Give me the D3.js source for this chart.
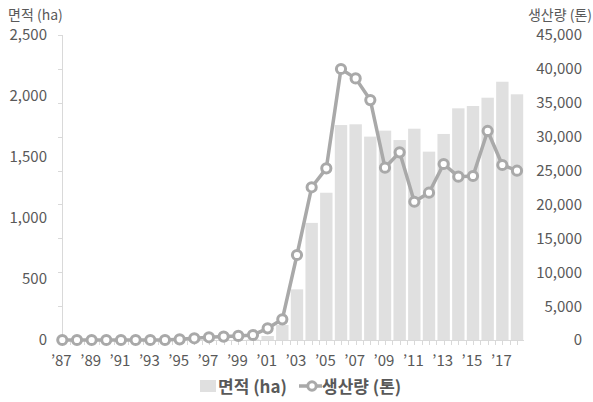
<!DOCTYPE html>
<html><head><meta charset="utf-8">
<script src="https://cdn.jsdelivr.net/npm/d3@7"></script>
<style>body{margin:0;background:#fff}svg{display:block}text{font-family:"Noto Sans CJK KR","Noto Sans",sans-serif}</style>
</head><body><svg id="c" width="593" height="402"></svg>
<script>
const years = d3.range(1987, 2019);
const area = [0,0,0,0,0,0,0,0,0,0,0,0,0,5,33,123,415,960,1207,1762,1768,1667,1716,1639,1732,1544,1689,1899,1918,1986,2117,2014];
const production = [0,0,0,0,0,0,0,0,100,250,400,500,600,740,1720,3050,12540,22530,25330,39980,38600,35400,25420,27690,20400,21730,25970,24100,24200,30840,25820,24980];
const leftTicks = [0,500,1000,1500,2000,2500];
const rightTicks = [0,5000,10000,15000,20000,25000,30000,35000,40000,45000];
const xLabelYears = d3.range(1987, 2019, 2);
const seriesNames = ["면적 (ha)", "생산량 (톤)"];

const svg = d3.select("#c");
const x0 = 62.3, x1 = 517;
const x = d3.scalePoint().domain(years).range([x0, x1]);
const step = x.step();
const yL = d3.scaleLinear().domain([0,2500]).range([340,35]);
const yR = d3.scaleLinear().domain([0,45000]).range([340,35]);
const barColor = "#e0e0e0", lineColor = "#a9a9a9", axisColor = "#d9d9d9", textColor = "#595959";

// bars
svg.append("g").selectAll("rect").data(years).join("rect")
  .attr("x", d => x(d) - 6.2).attr("width", 12.4)
  .attr("y", (d,i) => yL(area[i])).attr("height", (d,i) => yL(0) - yL(area[i]))
  .attr("fill", barColor);

// left axis line with ticks
const gl = svg.append("g");
gl.append("line").attr("x1", 62.5).attr("x2", 62.5).attr("y1", 35).attr("y2", 340).attr("stroke", axisColor);
gl.selectAll("line.t").data(rightTicks).join("line").attr("class","t")
  .attr("x1", 58).attr("x2", 62.5).attr("y1", d => Math.round(yR(d))+0.5).attr("y2", d => Math.round(yR(d))+0.5).attr("stroke", axisColor);
gl.selectAll("text").data(leftTicks).join("text")
  .attr("x", 47).attr("y", d => yL(d)).attr("dy","0.36em").attr("text-anchor","end")
  .attr("font-size", 15).attr("fill", textColor).text(d => d3.format(",")(d));

// right axis labels
svg.append("g").selectAll("text").data(rightTicks).join("text")
  .attr("x", 582).attr("y", d => yR(d)).attr("dy","0.36em").attr("text-anchor","end")
  .attr("font-size", 15).attr("fill", textColor).text(d => d3.format(",")(d));

// x axis
const gx = svg.append("g");
gx.append("line").attr("x1", 62).attr("x2", 524).attr("y1", 340.5).attr("y2", 340.5).attr("stroke", axisColor);
const halfTicks = d3.range(0, years.length*2).map(k => x0 + k*step/2).filter(v => v <= 524);
gx.selectAll("line.t").data(halfTicks).join("line").attr("class","t")
  .attr("x1", d => Math.round(d)+0.5).attr("x2", d => Math.round(d)+0.5).attr("y1", 340).attr("y2", 345).attr("stroke", axisColor);
gx.selectAll("text").data(xLabelYears).join("text")
  .attr("x", d => x(d) - 1).attr("y", 361).attr("dy","0.36em").attr("text-anchor","middle")
  .attr("font-size", 15).attr("fill", textColor).text(d => "’" + String(d).slice(2));

// line
const line = d3.line().x((d,i) => x(years[i])).y(d => yR(d));
svg.append("path").datum(production).attr("d", line).attr("fill","none")
  .attr("stroke", lineColor).attr("stroke-width", 3.5).attr("stroke-linejoin","round");
svg.append("g").selectAll("circle").data(production).join("circle")
  .attr("cx", (d,i) => x(years[i])).attr("cy", d => yR(d)).attr("r", 4.6)
  .attr("fill", "#fff").attr("stroke", lineColor).attr("stroke-width", 3);

// axis titles
svg.append("text").attr("x", 8).attr("y", 15).attr("dy","0.36em").attr("font-size", 14).attr("fill", textColor).text(seriesNames[0]);
svg.append("text").attr("x", 592).attr("y", 15).attr("dy","0.36em").attr("text-anchor","end").attr("font-size", 14).attr("fill", textColor).text(seriesNames[1]);

// legend
const lg = svg.append("g");
lg.append("rect").attr("x", 200).attr("y", 380).attr("width", 16).attr("height", 12).attr("fill", barColor);
lg.append("text").attr("x", 218).attr("y", 387).attr("dy","0.36em").attr("font-size", 17).attr("font-weight","bold").attr("fill", textColor).text(seriesNames[0]);
lg.append("line").attr("x1", 299).attr("x2", 322).attr("y1", 386).attr("y2", 386).attr("stroke", lineColor).attr("stroke-width", 3.5);
lg.append("circle").attr("cx", 312).attr("cy", 386).attr("r", 4.2).attr("fill","#fff").attr("stroke", lineColor).attr("stroke-width", 3);
lg.append("text").attr("x", 322).attr("y", 387).attr("dy","0.36em").attr("font-size", 17).attr("font-weight","bold").attr("fill", textColor).text(seriesNames[1]);
</script></body></html>
